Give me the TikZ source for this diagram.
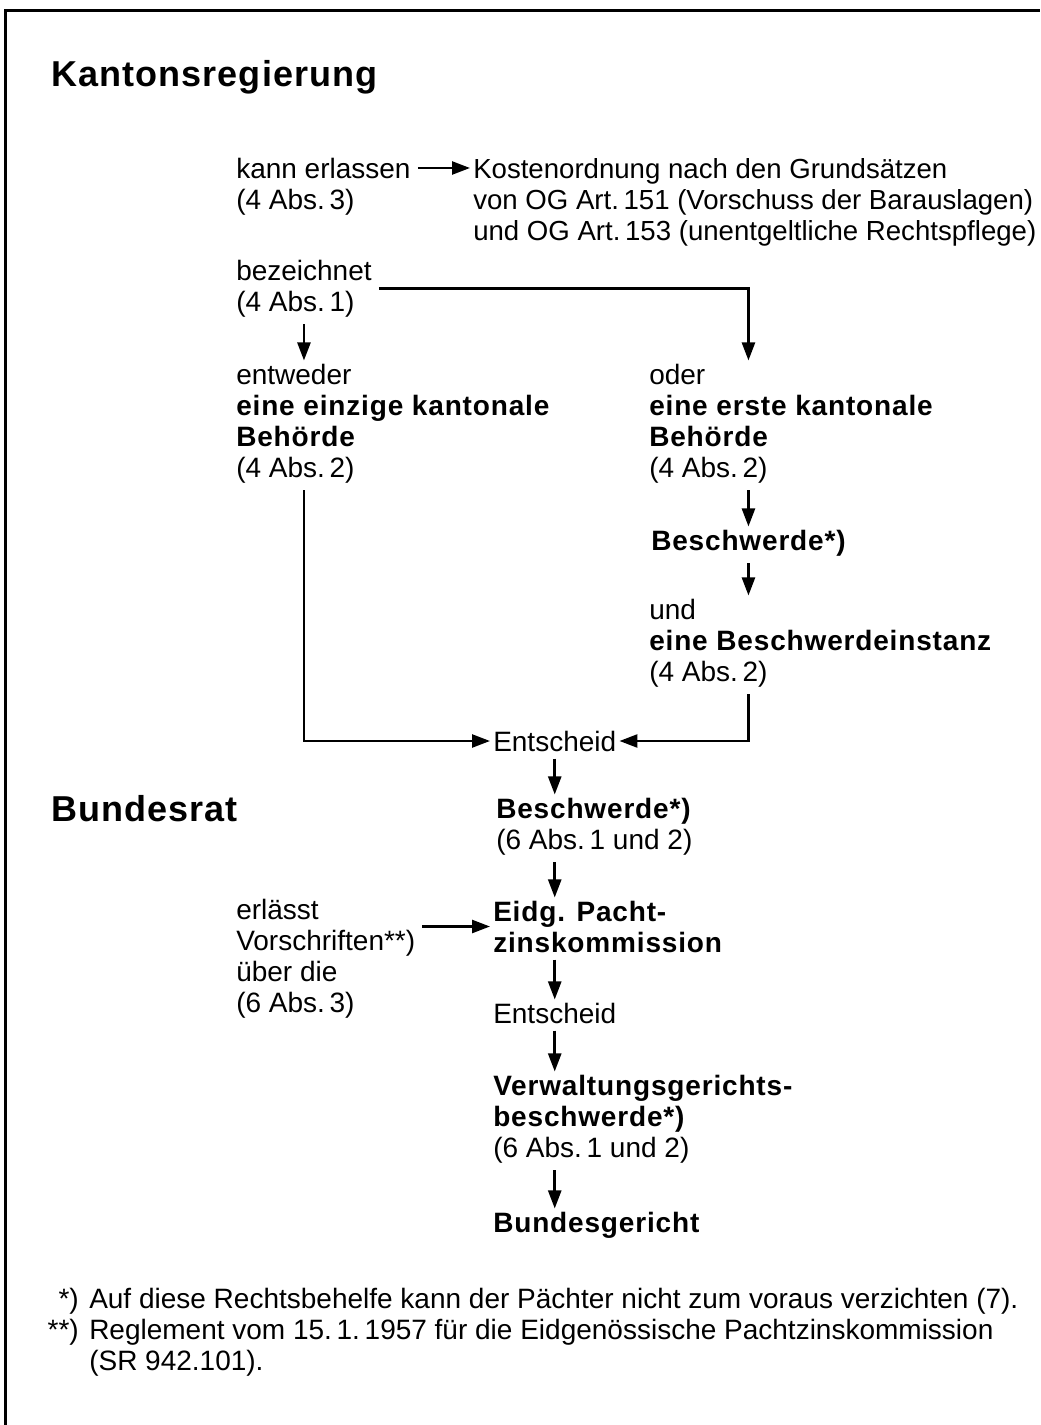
\documentclass[tikz,border=0pt]{standalone}
\usepackage{fontspec}
\setmainfont{Liberation Sans}[BoldFeatures={LetterSpace=3}]
\usetikzlibrary{arrows.meta,positioning}

\begin{document}
\begin{tikzpicture}[x=0.5pt,y=-0.5pt,->,>={Triangle[length=9pt,width=6.5pt]},
  line width=1.25pt,shorten >=1pt,shorten <=3pt,
  txt node/.style={anchor=base west,inner sep=0pt,align=left,font=\fontsize{14}{15.5}\selectfont},
  bold node/.style={txt node,font=\fontsize{14}{15.5}\selectfont\bfseries},
  head node/.style={anchor=base west,inner sep=0pt,font=\fontsize{18}{22}\selectfont\bfseries}]
\useasboundingbox (0,0) rectangle (1040,1425);
%frame
  \draw[-,shorten <=0pt,shorten >=0pt,line width=1.5pt] (5,1425) -- (5,10) -- (1040,10);
%Kantonsregierung (multi-line nodes sit on the baseline of their last line)
  \node[head node] (kanton) at (50,86) {Kantonsregierung};
%kann erlassen
  \node[txt node] (kann) at (235,178) {kann erlassen};
  \node[txt node] (kannabs) at (235,209) {(4 Abs.\,3)};
  \node[txt node,font=\fontsize{13.8}{15.5}\selectfont] (kosten) at (472,240) {Kostenordnung nach den Grundsätzen\\
    von OG Art.\,151 (Vorschuss der Barauslagen)\\
    und OG Art.\,153 (unentgeltliche Rechtspflege)};
%bezeichnet
  \node[txt node] (bez) at (235,311) {bezeichnet\\(4 Abs.\,1)};
%entweder
  \node[txt node] (entw) at (235,477) {entweder\\\textbf{eine einzige kantonale}\\
    \textbf{Behörde}\\(4 Abs.\,2)};
%oder
  \node[txt node] (oder) at (648,477) {oder\\\textbf{eine erste kantonale}\\
    \textbf{Behörde}\\(4 Abs.\,2)};
  \node[bold node] (besch1) at (650,550) {Beschwerde*)};
  \node[txt node] (und) at (648,681) {und\\\textbf{eine Beschwerdeinstanz}\\(4 Abs.\,2)};
%Entscheid
  \node[txt node] (ent1) at (492,751) {Entscheid};
%Bundesrat
  \node[head node] (bund) at (50,821) {Bundesrat};
  \node[txt node] (besch2) at (495,849) {\textbf{Beschwerde*)}\\(6 Abs.\,1 und 2)};
  \node[txt node] (eidg) at (492,952) {\textbf{Eidg. Pacht-}\\\textbf{zinskommission}};
  \node[txt node] (erl) at (235,1012) {erlässt\\Vorschriften**)\\über die\\(6 Abs.\,3)};
  \node[txt node] (ent2) at (492,1023) {Entscheid};
  \node[txt node] (verw) at (492,1157) {\textbf{Verwaltungsgerichts-}\\
    \textbf{beschwerde*)}\\(6 Abs.\,1 und 2)};
  \node[bold node] (bg) at (492,1232) {Bundesgericht};
%footnotes
  \node[txt node,anchor=base east] (fn1m) at (80,1308) {*)};
  \node[txt node] (fn1) at (88,1308) {Auf diese Rechtsbehelfe kann der Pächter nicht zum voraus verzichten (7).};
  \node[txt node,anchor=base east] (fn2m) at (80,1339) {**)};
  \node[txt node] (fn2) at (88,1370) {Reglement vom 15.\,1.\,1957 für die Eidgenössische Pachtzinskommission\\
    (SR 942.101).};
%paths
  \draw (kann.east) -- (kann.east -| kosten.west);
  \draw (bez.south) -- (bez.south |- entw.north);
  \draw (bez.east) -| (besch1 |- oder.north);
  \draw (oder.south -| besch1) -- (besch1.north);
  \draw (besch1.south) -- (besch1 |- und.north);
  \draw (und.south -| besch1) |- (ent1.east);
  \draw (entw.south -| bez.south) |- (ent1.west);
  \draw (ent1.south) -- (ent1 |- besch2.north);
  \draw (besch2.south -| ent1) -- (ent1 |- eidg.north);
  \draw (erl.east |- eidg.west) -- (eidg.west);
  \draw (eidg.south -| ent1) -- (ent2.north);
  \draw (ent2.south) -- (ent1 |- verw.north);
  \draw (verw.south -| ent1) -- (ent1 |- bg.north);
\end{tikzpicture}
\end{document}
